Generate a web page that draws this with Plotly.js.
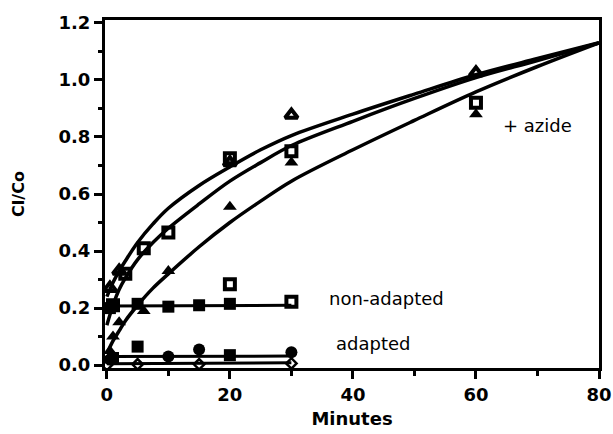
<!DOCTYPE html>
<html>
<head>
<meta charset="utf-8">
<script src="https://cdn.plot.ly/plotly-3.0.1.min.js"></script>
<style>html,body{margin:0;padding:0;background:#fff;}#chart{width:613px;height:434px;}</style>
</head>
<body>
<div id="chart"></div>
<script>
// Fitted curves (+ azide group)
var curveX = [0, 1, 2, 3, 5, 7.5, 10, 15, 20, 25, 30, 40, 50, 60, 70, 80];
var curveUpper = [0.24, 0.29, 0.33, 0.365, 0.43, 0.495, 0.55, 0.63, 0.695, 0.755, 0.805, 0.88, 0.95, 1.018, 1.075, 1.13];
var curveMiddle = [0.14, 0.21, 0.265, 0.305, 0.37, 0.43, 0.48, 0.565, 0.645, 0.71, 0.77, 0.855, 0.935, 1.008, 1.068, 1.13];
var curveLower = [0.04, 0.085, 0.12, 0.155, 0.21, 0.27, 0.32, 0.415, 0.50, 0.575, 0.645, 0.755, 0.858, 0.958, 1.047, 1.13];

// Measured points
var openTriX = [0.5, 2, 20, 30, 60];
var openTriY = [0.27, 0.33, 0.71, 0.877, 1.025];
var openSqX = [1, 3, 6, 10, 20, 30, 60];
var openSqY = [0.21, 0.32, 0.41, 0.465, 0.725, 0.75, 0.92];
var fillTriX = [0.5, 1, 2, 6, 10, 20, 30, 60];
var fillTriY = [0.05, 0.1, 0.15, 0.19, 0.33, 0.555, 0.71, 0.88];

// non-adapted
var nonAdX = [0.5, 1, 5, 10, 15, 20];
var nonAdY = [0.2, 0.21, 0.215, 0.205, 0.21, 0.215];
var nonAdOpenX = [20, 30];
var nonAdOpenY = [0.284, 0.222];
var nonAdLineX = [0, 30];
var nonAdLineY = [0.207, 0.21];

// adapted
var adSqX = [1, 5, 20];
var adSqY = [0.025, 0.065, 0.035];
var adCircX = [0.5, 10, 15, 30];
var adCircY = [0.02, 0.03, 0.055, 0.045];
var adLineX = [0, 30];
var adLineY = [0.03, 0.032];
var azDiaX = [0, 5, 15, 30];
var azDiaY = [0.0, 0.003, 0.003, 0.006];
var azLineX = [0, 30];
var azLineY = [0.005, 0.008];

var lineStyle = {color: '#000', width: 3.5, shape: 'spline', smoothing: 1};
var traces = [
  {x: curveX, y: curveUpper, mode: 'lines', line: lineStyle},
  {x: curveX, y: curveMiddle, mode: 'lines', line: lineStyle},
  {x: curveX, y: curveLower, mode: 'lines', line: lineStyle},
  {x: nonAdLineX, y: nonAdLineY, mode: 'lines', line: {color: '#000', width: 3}},
  {x: adLineX, y: adLineY, mode: 'lines', line: {color: '#000', width: 3}},
  {x: azLineX, y: azLineY, mode: 'lines', line: {color: '#000', width: 3}},
  {x: openTriX, y: openTriY, mode: 'markers', marker: {symbol: 'triangle-up-open', size: 11, color: '#000', line: {width: 4, color: '#000'}}},
  {x: openSqX, y: openSqY, mode: 'markers', marker: {symbol: 'square-open', size: 10, color: '#000', line: {width: 4, color: '#000'}}},
  {x: fillTriX, y: fillTriY, mode: 'markers', marker: {symbol: 'triangle-up', size: 12, color: '#000'}},
  {x: nonAdX, y: nonAdY, mode: 'markers', marker: {symbol: 'square', size: 12, color: '#000'}},
  {x: nonAdOpenX, y: nonAdOpenY, mode: 'markers', marker: {symbol: 'square-open', size: 10, color: '#000', line: {width: 4, color: '#000'}}},
  {x: adSqX, y: adSqY, mode: 'markers', marker: {symbol: 'square', size: 12, color: '#000'}},
  {x: adCircX, y: adCircY, mode: 'markers', marker: {symbol: 'circle', size: 12, color: '#000'}},
  {x: azDiaX, y: azDiaY, mode: 'markers', marker: {symbol: 'diamond-open', size: 8, color: '#000', line: {width: 2.5, color: '#000'}}}
];

var tickFont = {family: 'DejaVu Sans', size: 18, color: '#000', weight: 'bold'};
var layout = {
  width: 613, height: 434,
  margin: {l: 105, r: 14, t: 20, b: 66},
  paper_bgcolor: '#fff', plot_bgcolor: '#fff',
  showlegend: false,
  xaxis: {
    range: [-0.3, 80], tickmode: 'array', tickvals: [0, 20, 40, 60, 80],
    ticks: 'outside', ticklen: 8, tickwidth: 3, tickcolor: '#000',
    minor: {tickvals: [10, 30, 50, 70], ticks: 'outside', ticklen: 5, tickwidth: 3, tickcolor: '#000'},
    showline: true, linewidth: 3, linecolor: '#000', mirror: true,
    showgrid: false, zeroline: false,
    tickfont: tickFont,
    title: {text: 'Minutes', font: {family: 'DejaVu Sans', size: 18, color: '#000', weight: 'bold'}, standoff: 9}
  },
  yaxis: {
    range: [-0.01, 1.21], tickmode: 'array', tickvals: [0, 0.2, 0.4, 0.6, 0.8, 1.0, 1.2],
    tickformat: '.1f',
    ticks: 'outside', ticklen: 8, tickwidth: 3, tickcolor: '#000',
    minor: {tickvals: [0.1, 0.3, 0.5, 0.7, 0.9, 1.1], ticks: 'outside', ticklen: 4, tickwidth: 3, tickcolor: '#000'},
    showline: true, linewidth: 3, linecolor: '#000', mirror: true,
    showgrid: false, zeroline: false,
    tickfont: tickFont,
    title: {text: 'Cl/Co', font: {family: 'DejaVu Sans', size: 16, color: '#000', weight: 'bold'}, standoff: 30}
  },
  annotations: [
    {x: 70, y: 0.84, text: '+ azide', showarrow: false, font: {family: 'DejaVu Sans', size: 18, color: '#000'}},
    {x: 45.5, y: 0.232, text: 'non-adapted', showarrow: false, font: {family: 'DejaVu Sans', size: 18, color: '#000'}},
    {x: 43.2, y: 0.077, text: 'adapted', showarrow: false, font: {family: 'DejaVu Sans', size: 18, color: '#000'}}
  ]
};
Plotly.newPlot('chart', traces, layout, {displayModeBar: false, staticPlot: true});
</script>
</body>
</html>
